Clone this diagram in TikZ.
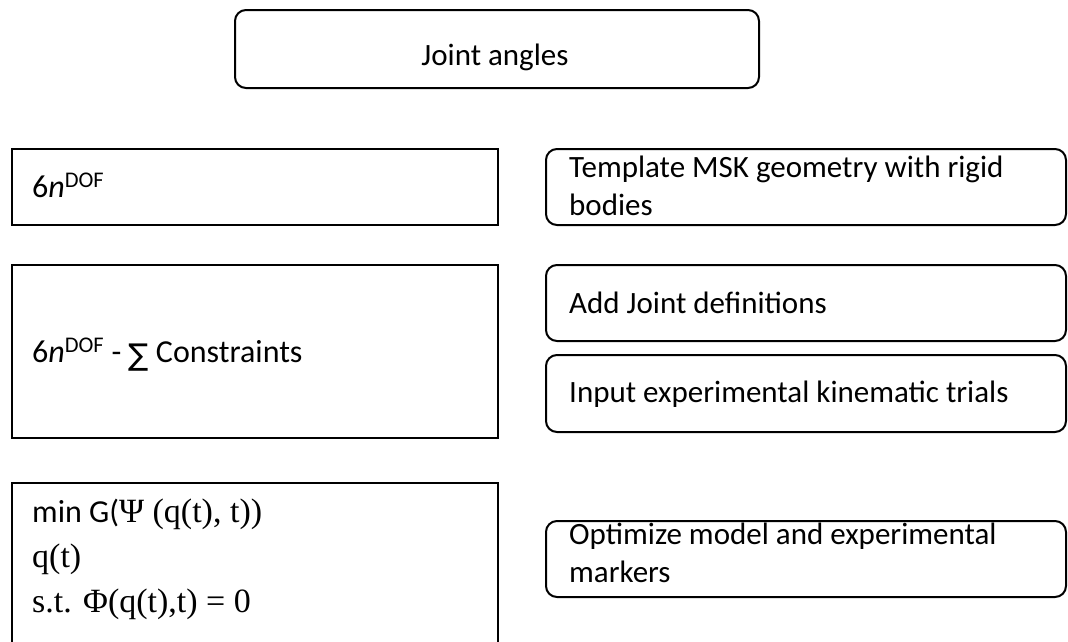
\documentclass[tikz,border=0pt]{standalone}
\usepackage{fontspec}
\setmainfont{Carlito}
\newfontfamily\serifm{Liberation Serif}
\newfontfamily\symf{DejaVu Sans}
\usetikzlibrary{fit}
\tikzset{
  sqbox/.style={draw, line width=2pt, inner sep=0pt},
  rbox/.style={draw, line width=2pt, inner sep=0pt, rounded corners=11pt},
  ltext/.style={anchor=base west, inner sep=0pt, font=\fontsize{32}{36}\selectfont},
  mtext/.style={anchor=base west, inner sep=0pt, font=\fontsize{34}{38}\serifm},
  rtext/.style={anchor=base west, inner sep=0pt, font=\fontsize{31}{38}\selectfont, align=left},
}
\begin{document}
\begin{tikzpicture}[x=1pt,y=-1pt]
\useasboundingbox (0,0) rectangle (1068,641);
\clip (0,0) rectangle (1068,641);
% top
\node[rbox, fit={(235,10) (759,88)}] (top) {};
\node[anchor=base, inner sep=0pt, font=\fontsize{31}{36}\selectfont] (toptext) at (495,65) {Joint angles};
% left boxes
\node[sqbox, fit={(12,149) (498,225)}] (l1) {};
\node[ltext] (l1t) at (32,197) {6\textit{n}\textsuperscript{DOF}};
\node[sqbox, fit={(12,265) (498,438)}] (l2) {};
\node[ltext] (l2t) at (32,362) {6\textit{n}\textsuperscript{DOF} - {\symf\fontsize{30}{34}\selectfont\raisebox{-3pt}{∑}} Constraints};
\node[sqbox, fit={(12,483) (498,670)}] (l3) {};
\node[ltext] (l3a) at (32,522) {min G({\fontsize{34}{38}\serifm Ψ (q(t), t))}};
\node[mtext] (l3b) at (32,567) {q(t)};
\node[mtext] (l3c) at (32,612) {s.t. Φ(q(t),t) = 0};
% right boxes
\node[rbox, fit={(546,149) (1066,225)}] (r1) {};
\node[rtext] (r1t) at (569,215) {Template MSK geometry with rigid\\bodies};
\node[rbox, fit={(546,265) (1066,341)}] (r2) {};
\node[rtext] (r2t) at (569,313) {Add Joint definitions};
\node[rbox, fit={(546,355) (1066,432)}] (r3) {};
\node[rtext] (r3t) at (569,402) {Input experimental kinematic trials};
\node[rbox, fit={(546,521) (1066,597)}] (r4) {};
\node[rtext] (r4t) at (569,582) {Optimize model and experimental\\markers};
\end{tikzpicture}
\end{document}
